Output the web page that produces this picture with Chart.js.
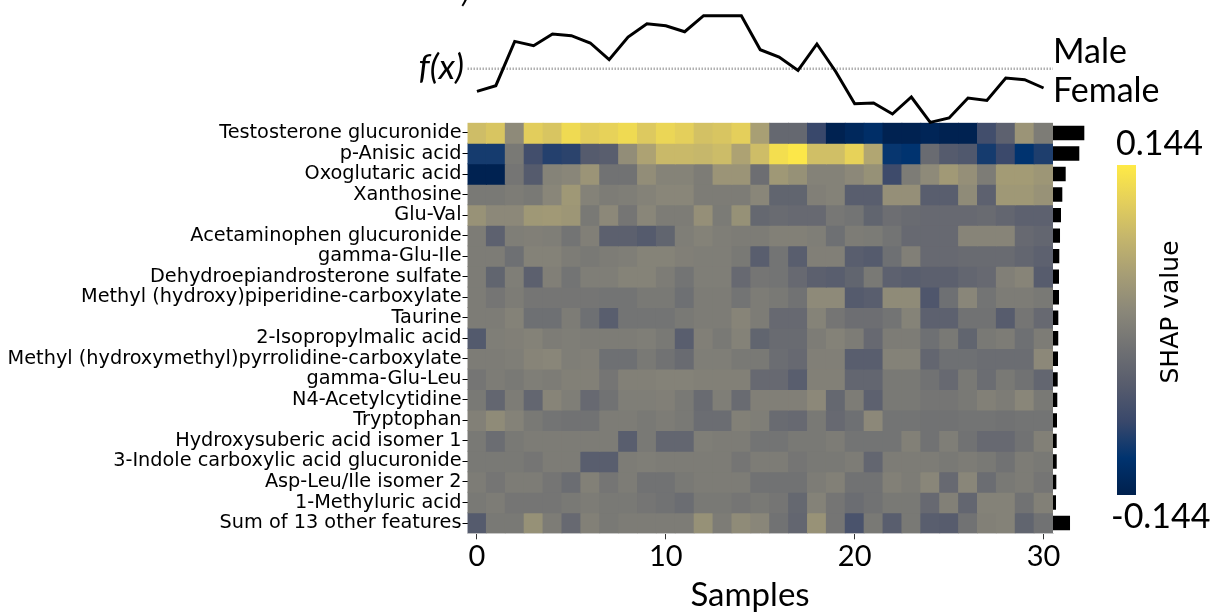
<!DOCTYPE html>
<html><head><meta charset="utf-8">
<script src="https://cdn.jsdelivr.net/npm/chart.js@4.4.1/dist/chart.umd.min.js"></script>
<style>
html,body{margin:0;padding:0;background:#fff;}
#wrap{position:relative;width:1210px;height:612px;overflow:hidden;background:#fff;}
#wrap canvas{position:absolute;left:0;top:0;}
</style></head><body>
<div id="wrap">
<canvas id="heat" width="1210" height="612"></canvas>
<canvas id="imp" width="1210" height="612"></canvas>
<canvas id="fx" width="1210" height="612"></canvas>
</div>
<script>
// ---------------- DATA ----------------
const features = [
  "Testosterone glucuronide","p-Anisic acid","Oxoglutaric acid","Xanthosine","Glu-Val",
  "Acetaminophen glucuronide","gamma-Glu-Ile","Dehydroepiandrosterone sulfate",
  "Methyl (hydroxy)piperidine-carboxylate","Taurine","2-Isopropylmalic acid",
  "Methyl (hydroxymethyl)pyrrolidine-carboxylate","gamma-Glu-Leu","N4-Acetylcytidine",
  "Tryptophan","Hydroxysuberic acid isomer 1","3-Indole carboxylic acid glucuronide",
  "Asp-Leu/Ile isomer 2","1-Methyluric acid","Sum of 13 other features"
];
const samples = Array.from({length: 31}, (_, i) => i);
const xTicks = [0, 10, 20, 30];
const colorLimit = 0.144;
const baseValue = 0;

// model output f(x) per sample
const fxValues = [-0.227,-0.17,0.273,0.23,0.347,0.33,0.257,0.09,0.317,0.45,0.43,0.37,0.53,0.53,0.53,
  0.19,0.117,-0.017,0.247,-0.03,-0.35,-0.343,-0.453,-0.283,-0.537,-0.493,-0.293,-0.317,-0.093,-0.11,-0.193];

// mean |SHAP| per feature (bars at right)
const importance = [0.0955,0.0802,0.0387,0.0284,0.0244,0.0214,0.0192,0.0183,0.0183,0.0162,0.016,
  0.0153,0.0143,0.0131,0.0122,0.0113,0.0113,0.0101,0.0092,0.0519];

// SHAP values, one array per feature (31 samples)
const shapTestosterone = [0.09,0.10,0.02,0.11,0.10,0.125,0.11,0.115,0.125,0.105,0.12,0.112,0.095,0.10,0.112,0.05,-0.03,-0.03,-0.08,-0.14,-0.13,-0.12,-0.14,-0.14,-0.135,-0.14,-0.14,-0.07,-0.04,0.035,0.0];
const shapAnisic = [-0.10,-0.10,-0.005,-0.07,-0.092,-0.088,-0.05,-0.045,0.025,0.055,0.085,0.085,0.082,0.088,0.055,0.09,0.13,0.14,0.092,0.092,0.115,0.06,-0.108,-0.112,-0.025,-0.05,-0.055,-0.10,-0.078,-0.112,-0.095];
const shapOxoglutaric = [-0.14,-0.14,-0.01,-0.05,0.01,0.015,0.035,-0.015,-0.015,0.025,0.01,0.01,0.0,0.035,0.035,-0.02,0.04,0.03,0.008,0.008,0.018,0.03,-0.075,0.0,0.02,0.042,0.028,0.0,0.045,0.045,0.038];
const shapXanthosine = [-0.005,-0.005,0.0,-0.005,0.015,0.04,0.008,0.0,0.003,0.008,0.015,0.015,0.0,0.0,0.0,0.015,-0.035,-0.035,0.005,0.008,-0.045,-0.045,0.028,0.028,-0.045,-0.045,0.022,-0.04,0.04,0.04,0.032];
const shapGluVal = [0.032,0.018,0.018,0.04,0.042,0.038,-0.005,0.018,-0.01,0.015,0.0,0.0,0.028,-0.002,0.03,-0.03,-0.025,-0.028,-0.028,-0.008,-0.012,-0.035,-0.02,-0.025,-0.028,-0.028,-0.028,-0.025,-0.033,-0.04,-0.04];
const shapAcetaminophen = [0.0,-0.04,0.003,0.005,0.003,-0.012,0.005,-0.042,-0.042,-0.05,-0.035,0.003,0.008,0.003,0.0,0.0,0.006,0.006,0.003,-0.018,0.0,-0.002,-0.012,-0.028,-0.028,-0.028,0.012,0.012,0.012,-0.028,-0.033];
const shapGluIle = [0.0,0.0,-0.018,0.008,0.008,0.0,-0.005,0.0,0.003,0.01,0.01,0.005,0.003,0.003,-0.005,-0.045,-0.012,-0.045,0.005,0.005,-0.045,-0.05,-0.018,0.005,-0.028,-0.028,-0.025,-0.025,-0.025,-0.033,-0.04];
const shapDHEAS = [0.0,-0.035,0.003,-0.042,0.005,-0.012,0.003,0.003,0.01,0.01,0.0,-0.012,0.003,0.003,-0.028,-0.01,-0.012,-0.028,-0.042,-0.045,-0.035,-0.005,-0.04,-0.045,-0.042,-0.042,-0.033,-0.028,0.005,0.012,-0.048];
const shapPiperidine = [0.0,-0.01,0.0,-0.01,-0.01,-0.01,-0.01,-0.012,-0.012,-0.005,-0.005,-0.018,0.0,0.0,-0.012,0.0,-0.005,-0.015,0.02,0.02,-0.05,-0.045,0.022,0.022,-0.057,-0.018,0.015,-0.012,0.0,0.0,-0.005];
const shapTaurine = [0.0,0.0,0.008,-0.018,-0.018,0.0,-0.018,-0.045,-0.012,-0.012,-0.012,-0.005,0.0,0.0,0.012,0.0,-0.028,-0.028,0.01,-0.01,-0.02,-0.02,-0.012,0.01,-0.04,-0.04,-0.015,-0.015,-0.048,-0.01,-0.028];
const shapIsopropylmalic = [-0.052,0.003,0.005,0.008,0.0,0.003,0.0,0.0,0.0,0.003,-0.005,-0.045,0.005,-0.005,0.008,-0.035,-0.025,-0.025,0.0,0.008,0.0,-0.028,0.0,0.0,-0.018,-0.005,-0.035,-0.005,0.0,-0.018,0.0];
const shapPyrrolidine = [0.0,0.0,0.003,0.012,0.015,0.003,0.005,-0.018,-0.018,-0.005,-0.015,-0.025,0.003,0.003,-0.005,-0.005,-0.022,-0.028,0.005,0.005,-0.045,-0.045,0.008,0.008,-0.033,-0.018,-0.018,-0.022,-0.022,-0.022,0.018];
const shapGluLeu = [-0.01,0.0,-0.005,0.003,0.0,0.006,0.006,-0.01,0.006,0.006,0.008,0.008,0.006,0.006,0.006,-0.028,-0.028,-0.045,0.006,0.006,-0.033,-0.033,-0.005,-0.005,-0.015,-0.028,-0.005,-0.022,-0.005,-0.015,-0.033];
const shapAcetylcytidine = [-0.005,-0.033,0.0,-0.033,0.012,0.003,-0.028,-0.015,0.003,0.003,0.005,-0.005,-0.025,0.003,-0.025,0.005,0.005,0.005,0.018,-0.03,0.0,-0.04,-0.005,-0.005,-0.01,-0.01,-0.005,0.006,0.0,0.015,-0.005];
const shapTryptophan = [0.006,0.022,0.008,-0.005,-0.012,-0.015,-0.015,0.0,0.0,-0.005,0.0,-0.005,-0.022,-0.022,0.006,0.003,-0.025,-0.028,-0.005,-0.028,-0.018,0.018,-0.012,-0.012,-0.015,-0.015,-0.012,-0.012,-0.015,-0.012,-0.012];
const shapHydroxysuberic = [-0.005,-0.022,-0.005,0.0,0.0,0.0,0.0,0.0,-0.045,-0.005,-0.033,-0.033,0.003,0.0,0.0,-0.012,-0.012,-0.005,-0.005,0.0,-0.012,-0.012,-0.012,0.006,-0.015,0.003,-0.015,-0.028,-0.028,-0.015,0.006];
const shapIndole = [-0.005,-0.005,-0.005,-0.01,0.0,0.0,-0.045,-0.045,0.0,0.003,0.0,0.0,0.0,0.0,-0.01,0.0,0.0,-0.01,-0.005,-0.005,0.0,-0.033,0.0,0.0,0.0,-0.005,0.0,-0.005,-0.015,0.0,-0.005];
const shapAspLeu = [0.0,-0.01,0.0,0.0,-0.01,-0.022,0.006,-0.01,0.0,-0.015,-0.015,-0.005,0.0,0.0,0.0,-0.015,-0.015,-0.015,0.0,0.006,-0.015,-0.015,0.006,0.0,0.015,-0.028,0.015,-0.022,-0.005,0.0,-0.01];
const shapMethyluric = [-0.005,0.0,-0.01,-0.01,-0.01,-0.005,0.0,-0.005,-0.005,-0.01,-0.015,-0.022,-0.005,-0.005,-0.01,-0.005,-0.01,-0.03,0.008,-0.01,-0.022,-0.015,-0.005,-0.005,-0.028,0.006,-0.033,0.008,0.008,-0.015,0.006];
const shapOther = [-0.05,-0.005,-0.005,0.03,0.0,-0.028,0.006,-0.005,0.0,0.0,0.0,0.0,0.03,0.0,0.022,0.015,-0.015,-0.033,0.032,-0.01,-0.062,-0.005,-0.045,-0.005,-0.045,-0.048,-0.015,0.006,0.008,-0.035,-0.015];

const shapRows = [shapTestosterone, shapAnisic, shapOxoglutaric, shapXanthosine, shapGluVal,
  shapAcetaminophen, shapGluIle, shapDHEAS, shapPiperidine, shapTaurine, shapIsopropylmalic,
  shapPyrrolidine, shapGluLeu, shapAcetylcytidine, shapTryptophan, shapHydroxysuberic,
  shapIndole, shapAspLeu, shapMethyluric, shapOther];

// ---------------- COLORMAP (cividis) ----------------
const CIVIDIS = ['#00204D','#00336F','#39486B','#575C6D','#707173','#8A8779','#A69D75','#C4B56C','#E4CF5B','#FFEA46'];
function hex2rgb(h){ return [parseInt(h.slice(1,3),16),parseInt(h.slice(3,5),16),parseInt(h.slice(5,7),16)]; }
function cividis(t){
  t = Math.max(0, Math.min(1, t));
  const n = CIVIDIS.length - 1, p = t * n;
  const i = Math.min(n - 1, Math.floor(p)), f = p - i;
  const a = hex2rgb(CIVIDIS[i]), b = hex2rgb(CIVIDIS[i+1]);
  return 'rgb(' + a.map((v,k)=>Math.round(v + (b[k]-v)*f)).join(',') + ')';
}
const colorFor = v => cividis((v + colorLimit) / (2 * colorLimit));

// ---------------- LAYOUT ----------------
const W = 1210, H = 612;
const AREA = {left: 467.5, right: 1053, top: 122.7, bottom: 533.3};

Chart.defaults.font.family = 'DejaVu Sans';
Chart.defaults.color = '#000';

// ---------------- HEATMAP ----------------
const heatDecor = {
  id: 'heatDecor',
  afterDraw(chart){
    const c = chart.ctx;
    c.save();
    c.fillStyle = '#000';
    c.font = '33px Lato';
    c.textAlign = 'center'; c.textBaseline = 'alphabetic';
    c.fillText('Samples', 750, 606);
    // colorbar
    const cbX = 1117, cbW = 19, cbTop = 165, cbBot = 495;
    const g = c.createLinearGradient(0, cbBot, 0, cbTop);
    CIVIDIS.forEach((col, i) => g.addColorStop(i / (CIVIDIS.length - 1), col));
    c.fillStyle = g;
    c.fillRect(cbX, cbTop, cbW, cbBot - cbTop);
    c.fillStyle = '#000';
    c.font = '34px Lato';
    c.textAlign = 'left';
    c.fillText(colorLimit.toFixed(3), 1116, 155);
    c.fillText((-colorLimit).toFixed(3), 1111, 528);
    c.translate(1171, 312);
    c.rotate(-Math.PI / 2);
    c.font = '25px "DejaVu Sans"';
    c.textAlign = 'center'; c.textBaseline = 'middle';
    c.fillText('SHAP value', 0, 0);
    c.restore();
  }
};

new Chart(document.getElementById('heat'), {
  type: 'bar',
  data: {
    datasets: shapRows.map((row, r) => ({
      label: features[r],
      data: row.map((v, i) => ({x: samples[i], y: [r, r + 1]})),
      backgroundColor: row.map(colorFor),
      borderWidth: 0,
      grouped: false,
      barPercentage: 1,
      categoryPercentage: 1,
      inflateAmount: 0.45
    }))
  },
  options: {
    responsive: false, animation: false, devicePixelRatio: 1,
    layout: {padding: {left: 0, right: W - AREA.right, top: AREA.top, bottom: 0}},
    plugins: {legend: {display: false}, tooltip: {enabled: false}},
    scales: {
      x: {
        type: 'linear', min: -0.5, max: 30.5, offset: false,
        afterBuildTicks: a => { a.ticks = xTicks.map(v => ({value: v})); },
        ticks: {font: {family: 'Lato', size: 29}, color: '#000', padding: 0, maxRotation: 0, autoSkip: false},
        grid: {display: true, drawOnChartArea: false, drawTicks: true, tickLength: 6, color: '#333', offset: false},
        border: {display: true, color: '#d8d8d8', width: 1},
        afterFit: a => { a.height = H - AREA.bottom; }
      },
      y: {
        type: 'linear', min: 0, max: 20, reverse: true,
        afterBuildTicks: a => { a.ticks = features.map((f, i) => ({value: i + 0.5})); },
        ticks: {callback: (v, i) => features[i], autoSkip: false, font: {family: 'DejaVu Sans', size: 19.3}, color: '#000', padding: 1},
        grid: {display: true, drawOnChartArea: false, drawTicks: true, tickLength: 5, color: '#000'},
        border: {display: false},
        afterFit: a => { a.width = AREA.left; }
      }
    }
  },
  plugins: [heatDecor]
});

// ---------------- IMPORTANCE BARS ----------------
new Chart(document.getElementById('imp'), {
  type: 'bar',
  data: {
    labels: features,
    datasets: [{data: importance, backgroundColor: '#000', borderWidth: 0, barPercentage: 0.7, categoryPercentage: 1}]
  },
  options: {
    indexAxis: 'y',
    responsive: false, animation: false, devicePixelRatio: 1,
    layout: {padding: {left: AREA.right, right: W - 1085.8, top: AREA.top, bottom: H - AREA.bottom}},
    plugins: {legend: {display: false}, tooltip: {enabled: false}},
    scales: {
      x: {type: 'linear', min: 0, max: 0.1, display: false},
      y: {type: 'category', display: false}
    }
  }
});

// ---------------- f(x) LINE ----------------
const fxDecor = {
  id: 'fxDecor',
  afterDraw(chart){
    const c = chart.ctx;
    c.save();
    c.fillStyle = '#000';
    c.font = '34px Lato';
    c.textAlign = 'left'; c.textBaseline = 'alphabetic';
    c.fillText('Male', 1053, 63);
    c.fillText('Female', 1053, 102);
    c.font = 'italic 35px Lato';
    c.textAlign = 'right';
    c.fillText('f(x)', 464, 79);
    c.font = 'italic 30px Lato';
    c.fillText(')', 470, 2);
    c.restore();
  }
};

new Chart(document.getElementById('fx'), {
  type: 'line',
  data: {
    datasets: [
      {data: fxValues.map((v, i) => ({x: samples[i], y: v})), borderColor: '#000', borderWidth: 3,
       pointRadius: 0, tension: 0, clip: false, borderJoinStyle: 'miter', order: 0},
      {data: [{x: -0.5, y: baseValue}, {x: 30.5, y: baseValue}], borderColor: '#b0b0b0', borderWidth: 2.4,
       borderDash: [1.5, 1.5], pointRadius: 0, clip: false, order: 1}
    ]
  },
  options: {
    responsive: false, animation: false, devicePixelRatio: 1,
    layout: {padding: {left: AREA.left, right: W - AREA.right, top: 0, bottom: H - AREA.top}},
    plugins: {legend: {display: false}, tooltip: {enabled: false}},
    scales: {
      x: {type: 'linear', min: -0.5, max: 30.5, display: false},
      y: {type: 'linear', min: -0.54, max: 0.687, display: false}
    }
  },
  plugins: [fxDecor]
});
</script></body></html>
